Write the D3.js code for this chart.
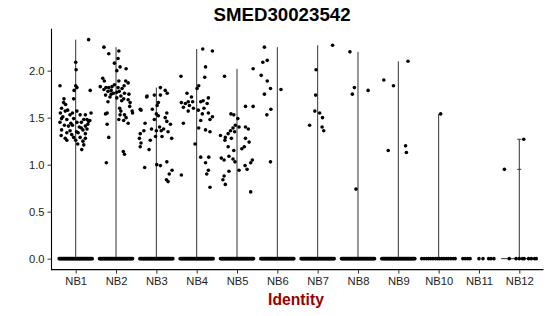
<!DOCTYPE html>
<html>
<head>
<meta charset="utf-8">
<script src="https://cdn.jsdelivr.net/npm/d3@7"></script>
<style>
  html, body { margin: 0; padding: 0; background: #fff; }
  svg { display: block; font-family: "Liberation Sans", Arial, sans-serif; }
</style>
</head>
<body>
<svg id="chart" width="550" height="316"></svg>
<script>
// ---------------- DATA ----------------
const titleText = "SMED30023542";
const xTitle = "Identity";
const categories = ["NB1","NB2","NB3","NB4","NB5","NB6","NB7","NB8","NB9","NB10","NB11","NB12"];
const yTicks = [0, 0.5, 1.0, 1.5, 2.0];

// non-zero expression points: [value, jitter (fraction of category step)]
const nb1Points = [[2.33,0.32],[2.09,0],[2.01,0.01],[1.84,-0.39],[1.84,0],[1.79,-0.04],[1.79,0.36],[1.82,0.03],[1.70,-0.05],[1.70,-0.29],[1.66,-0.30],[1.64,-0.25],[1.60,-0.35],[1.57,-0.26],[1.55,-0.38],[1.55,-0.08],[1.57,0.03],[1.55,0.38],[1.53,-0.14],[1.53,0.11],[1.53,0.24],[1.49,-0.35],[1.48,-0.22],[1.49,-0.05],[1.48,0.2],[1.48,0.28],[1.45,-0.39],[1.45,0.03],[1.45,0.14],[1.46,0.32],[1.42,-0.28],[1.41,-0.18],[1.42,-0.08],[1.40,0.09],[1.41,0.24],[1.37,-0.35],[1.36,-0.14],[1.37,0.18],[1.38,0.28],[1.34,-0.22],[1.34,0.06],[1.33,0.24],[1.31,-0.36],[1.28,-0.26],[1.29,-0.05],[1.29,0.11],[1.28,0.24],[1.26,-0.22],[1.26,0],[1.25,0.18],[1.22,0.05],[1.21,0.2],[1.16,0.15],[1.51,-0.32],[1.44,-0.12],[1.39,0.14],[1.47,0.35],[1.32,-0.1],[1.58,-0.2],[1.43,0.3],[1.35,0.02]];
const nb2Points = [[2.25,-0.3],[2.18,-0.18],[2.21,0.07],[2.13,0.05],[2.08,-0.04],[2.04,0.1],[2.0,0.02],[2.02,0.25],[1.92,-0.33],[1.89,-0.29],[1.89,0.07],[1.89,0.24],[1.87,0.3],[1.83,-0.39],[1.82,-0.25],[1.82,-0.18],[1.83,-0.1],[1.85,-0.04],[1.82,0.05],[1.81,0.15],[1.78,-0.2],[1.79,-0.12],[1.76,-0.06],[1.77,0.02],[1.76,0.21],[1.75,0.32],[1.74,-0.26],[1.72,-0.15],[1.73,0.12],[1.70,0.19],[1.69,0.3],[1.67,-0.2],[1.66,0.35],[1.62,0.34],[1.60,0.09],[1.57,0.12],[1.57,0.4],[1.54,-0.26],[1.53,0.1],[1.53,0.21],[1.48,0.07],[1.50,0.25],[1.47,0.19],[1.44,0.3],[1.43,-0.22],[1.29,-0.18],[1.14,0.18],[1.11,0.21],[1.02,-0.24],[1.55,0.41],[1.80,-0.3],[1.78,0.08],[1.84,0.2],[1.71,0.02],[1.75,-0.12],[1.68,0.14],[1.55,-0.22]];
const nb3Points = [[1.82,0.1],[1.79,0.22],[1.76,0.27],[1.74,-0.05],[1.73,-0.23],[1.74,0.1],[1.66,0.05],[1.63,0.02],[1.59,-0.4],[1.59,-0.1],[1.58,-0.38],[1.72,-0.24],[1.54,0],[1.52,0.05],[1.55,0.26],[1.50,0.22],[1.46,0.26],[1.43,0.35],[1.44,-0.28],[1.36,-0.31],[1.38,-0.12],[1.36,0],[1.36,0.12],[1.38,0.18],[1.35,0.29],[1.33,-0.4],[1.30,-0.02],[1.30,0.14],[1.28,0.38],[1.26,-0.15],[1.23,-0.38],[1.19,-0.4],[1.16,-0.18],[0.97,-0.29],[1.0,0.01],[0.99,0.1],[1.03,0.26],[0.94,0.39],[0.90,0.32],[0.84,0.25],[0.82,0.29],[1.28,-0.42],[1.48,-0.05],[1.40,0.08]];
const nb4Points = [[2.23,0.15],[2.21,0.39],[2.04,0.22],[1.94,-0.39],[1.93,0.2],[1.84,0.05],[1.81,0.01],[1.76,-0.24],[1.72,-0.13],[1.71,0.29],[1.66,-0.38],[1.65,-0.28],[1.67,-0.21],[1.67,-0.1],[1.67,0.1],[1.68,0.16],[1.65,0.26],[1.61,-0.33],[1.63,-0.18],[1.60,-0.08],[1.58,0.04],[1.60,0.18],[1.57,-0.21],[1.54,0.14],[1.55,0.29],[1.51,0.39],[1.48,0.33],[1.47,0.1],[1.44,-0.33],[1.39,0.05],[1.37,0.22],[1.35,0.33],[1.22,-0.04],[1.08,0.1],[1.08,0.3],[1.02,0.22],[0.94,0.29],[0.90,0.25],[0.89,-0.38],[0.76,0.33]];
const nb5Points = [[2.02,0.4],[1.94,-0.31],[1.62,0.21],[1.62,0.4],[1.54,-0.15],[1.53,-0.08],[1.49,0.02],[1.42,-0.04],[1.39,-0.1],[1.40,0.05],[1.36,-0.16],[1.35,-0.06],[1.40,0.21],[1.38,0.28],[1.31,-0.41],[1.29,-0.29],[1.33,-0.22],[1.28,-0.14],[1.26,-0.3],[1.28,0.21],[1.24,0.3],[1.19,-0.22],[1.19,0.18],[1.17,0.12],[1.15,-0.08],[1.09,-0.2],[1.07,-0.39],[1.05,-0.32],[1.06,-0.1],[1.03,-0.05],[1.05,0.38],[1.02,0.34],[0.94,0.05],[0.99,0.2],[0.95,0.25],[0.93,-0.2],[0.88,-0.32],[0.84,-0.35],[0.79,-0.29],[0.71,0.34]];
const nb6Points = [[2.25,-0.32],[2.11,-0.25],[2.09,-0.36],[1.95,-0.4],[1.89,-0.25],[1.81,-0.17],[1.80,0.09],[1.75,-0.32],[1.59,-0.16],[1.53,-0.26],[1.03,-0.17]];
const nb7Points = [[2.27,0.37],[2.01,-0.04],[1.74,-0.05],[1.57,-0.07],[1.55,0.05],[1.50,0.12],[1.42,-0.2],[1.40,0.11],[1.36,0.15]];
const nb8Points = [[2.20,-0.2],[1.82,-0.09],[1.75,-0.14],[1.79,0.25],[0.74,-0.05]];
const nb9Points = [[2.10,0.24],[1.90,-0.36],[1.84,-0.12],[1.15,-0.25],[1.20,0.18],[1.13,0.2]];
const nb10Points = [[1.54,0.05]];
const nb11Points = [];
const nb12Points = [[0.95,-0.37],[1.27,0.11]];

// zero-expression cells: jitter positions (fraction of category step)
const zeroJitterDense = [-0.41,-0.39,-0.37,-0.35,-0.33,-0.31,-0.29,-0.27,-0.25,-0.23,-0.21,-0.19,-0.17,-0.15,-0.13,-0.11,-0.09,-0.07,-0.05,-0.03,-0.01,0.01,0.03,0.05,0.07,0.09,0.11,0.13,0.15,0.17,0.19,0.21,0.23,0.25,0.27,0.29,0.31,0.33,0.35,0.37,0.39,0.41];
const nb10Zeros = [-0.42,-0.36,-0.3,-0.25,-0.2,-0.14,-0.08,-0.03,0.02,0.08,0.13,0.19,0.24,0.3,0.36,0.41];
const nb11Zeros = [-0.4,-0.34,-0.28,-0.22,0.0,0.1,0.24,0.3,0.37];
const nb12Zeros = [-0.25,-0.08,0.0,0.08,0.12,0.23,0.3,0.38,0.42];

// groups with a visible violin base at zero
const violinBaseVisible = ["NB12"];

// ---------------- BUILD TABLE ----------------
const pointSets = [nb1Points,nb2Points,nb3Points,nb4Points,nb5Points,nb6Points,nb7Points,nb8Points,nb9Points,nb10Points,nb11Points,nb12Points];
const zeroSets = [zeroJitterDense,zeroJitterDense,zeroJitterDense,zeroJitterDense,zeroJitterDense,zeroJitterDense,zeroJitterDense,zeroJitterDense,zeroJitterDense,nb10Zeros,nb11Zeros,nb12Zeros];

const groups = categories.map((c, i) => ({
  name: c,
  points: pointSets[i].map(p => ({v: p[0], j: p[1]})).concat(zeroSets[i].map(j => ({v: 0, j}))),
  max: pointSets[i].length ? d3.max(pointSets[i], p => p[0]) : 0
}));

// ---------------- DRAW ----------------
const svg = d3.select("#chart");
const mLeft = 51.5, mRight = 543.5, mTop = 28.7, mBottom = 269.6;

const allMax = d3.max(groups, g => g.max);
const pad = allMax * 0.05;
const y = d3.scaleLinear().domain([-pad, allMax + pad]).range([mBottom, mTop]);
const x = d3.scalePoint().domain(categories).range([mLeft, mRight]).padding(0.6);
const step = x.step();

// violins
const vg = svg.append("g").attr("stroke", "#333").attr("stroke-width", 1).attr("fill", "none");
groups.forEach(g => {
  if (g.max <= 0) return;
  const cx = x(g.name);
  vg.append("line").attr("x1", cx).attr("x2", cx).attr("y1", y(0)).attr("y2", y(g.max));
  if (violinBaseVisible.includes(g.name)) {
    vg.append("line").attr("x1", cx - 0.45 * step).attr("x2", cx + 0.45 * step).attr("y1", y(0)).attr("y2", y(0));
    g.points.filter(p => p.v > 0).forEach(p => {
      vg.append("line").attr("x1", cx - 2).attr("x2", cx + 2).attr("y1", y(p.v)).attr("y2", y(p.v));
    });
  }
});

// points
const pg = svg.append("g").attr("fill", "#000");
groups.forEach(g => {
  const cx = x(g.name);
  pg.selectAll(null).data(g.points).enter().append("circle")
    .attr("cx", d => cx + d.j * step)
    .attr("cy", d => y(d.v))
    .attr("r", 1.8);
});

// axes
const yAxis = d3.axisLeft(y).tickValues(yTicks).tickFormat(d3.format(".1f")).tickSize(4).tickPadding(3);
const xAxis = d3.axisBottom(x).tickSize(4).tickPadding(3);

const ya = svg.append("g").attr("transform", `translate(${mLeft},0)`).call(yAxis);
ya.select(".domain").remove();
ya.selectAll(".tick line").attr("stroke", "#333").attr("stroke-width", 1);
ya.selectAll(".tick text").attr("font-size", 11.2).attr("fill", "#222").attr("font-family", "Liberation Sans, Arial, sans-serif");

const xa = svg.append("g").attr("transform", `translate(0,${mBottom})`).call(xAxis);
xa.select(".domain").remove();
xa.selectAll(".tick line").attr("stroke", "#333").attr("stroke-width", 1);
xa.selectAll(".tick text").attr("font-size", 11.2).attr("fill", "#222").attr("font-family", "Liberation Sans, Arial, sans-serif");

// axis lines
svg.append("line").attr("x1", mLeft).attr("x2", mLeft).attr("y1", mTop).attr("y2", mBottom + 0.5)
  .attr("stroke", "#000").attr("stroke-width", 1.1);
svg.append("line").attr("x1", mLeft - 0.5).attr("x2", mRight).attr("y1", mBottom).attr("y2", mBottom)
  .attr("stroke", "#000").attr("stroke-width", 1.1);

// titles
svg.append("text").attr("x", 282).attr("y", 20.7).attr("text-anchor", "middle")
  .attr("font-size", 18.7).attr("font-weight", "bold").attr("fill", "#000").text(titleText);
svg.append("text").attr("x", 296).attr("y", 304.5).attr("text-anchor", "middle")
  .attr("font-size", 15.7).attr("font-weight", "bold").attr("fill", "#990000").text(xTitle);
</script>
</body>
</html>
